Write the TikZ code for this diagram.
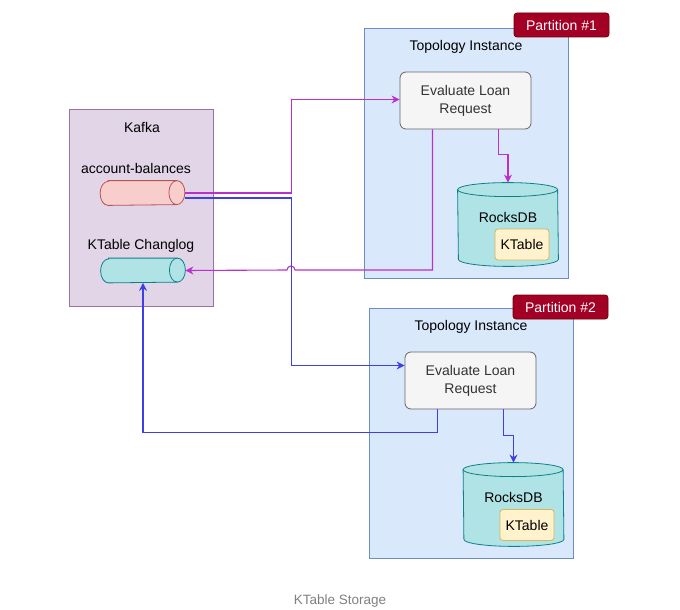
\documentclass[tikz,border=0pt]{standalone}
\usepackage{fontspec}
\setmainfont{Liberation Sans}
\usetikzlibrary{arrows.meta}

\definecolor{kafkafill}{HTML}{E1D5E7}
\definecolor{kafkadraw}{HTML}{9673A6}
\definecolor{redfill}{HTML}{F8CECC}
\definecolor{reddraw}{HTML}{B85450}
\definecolor{tealfill}{HTML}{B0E3E6}
\definecolor{tealdraw}{HTML}{0E8088}
\definecolor{topofill}{HTML}{DAE8FC}
\definecolor{topodraw}{HTML}{6C8EBF}
\definecolor{procfill}{HTML}{F5F5F5}
\definecolor{procdraw}{HTML}{666666}
\definecolor{proctext}{HTML}{333333}
\definecolor{tablefill}{HTML}{FFF2CC}
\definecolor{tabledraw}{HTML}{D6B656}
\definecolor{tagfill}{HTML}{A20025}
\definecolor{tagdraw}{HTML}{6F0000}
\definecolor{magline}{HTML}{BB2FCC}
\definecolor{blueline}{HTML}{3F3FE6}

\begin{document}
\begin{tikzpicture}[x=1pt,y=-1pt,>={Stealth[length=8pt,width=8pt]},line width=0.8pt,
  font=\fontsize{14}{16.5}\selectfont,
  box node/.style={draw,anchor=north west,inner sep=0pt},
  topic node/.style={rectangle,minimum width=84pt,minimum height=24pt,inner sep=0pt},
  db node/.style={rectangle,minimum width=100pt,minimum height=83pt,inner sep=0pt},
  proc node/.style={rectangle,rounded corners=6pt,draw=procdraw,fill=procfill,text=proctext,
    align=center,minimum width=131pt,minimum height=57pt,font=\fontsize{14}{18}\selectfont},
  table node/.style={rectangle,rounded corners=3pt,draw=tabledraw,fill=tablefill,
    minimum width=54pt,minimum height=31pt,inner sep=0pt},
  tag node/.style={rectangle,rounded corners=3pt,draw=tagdraw,fill=tagfill,text=white,
    minimum width=95pt,minimum height=24pt,inner sep=0pt},
  flow/.style={->,line width=1.1pt}]

  \useasboundingbox (0,0) rectangle (680,610);

  % kafka
  \node[box node,fill=kafkafill,draw=kafkadraw,minimum width=144pt,minimum height=197pt] (kafka) at (69,109) {};
  \node (kafkatitle) at (142,127) {Kafka};
  \node (balancestitle) at (136,168) {account-balances};
  \node[topic node] (balances) at (142.5,193) {};
  \node (changlogtitle) at (141,246) {KTable Changlog};
  \node[topic node] (changlog) at (143,270.5) {};

  % topic cylinders, lying
  \foreach \n/\f/\d in {balances/redfill/reddraw,changlog/tealfill/tealdraw} {
    \draw[fill=\f,draw=\d] ([xshift=8pt]\n.north west) -- ([xshift=-8pt]\n.north east)
      arc[start angle=90,end angle=-90,x radius=8pt,y radius=12pt]
      -- ([xshift=8pt]\n.south west)
      arc[start angle=270,end angle=90,x radius=8pt,y radius=12pt] -- cycle;
    \draw[draw=\d] ([xshift=-8pt]\n.north east)
      arc[start angle=90,end angle=270,x radius=8pt,y radius=12pt];
  }

  % partition 1
  \node[box node,fill=topofill,draw=topodraw,minimum width=204pt,minimum height=250pt] (topo1) at (364,28) {};
  \node (topotitle1) at (466,47) {Topology Instance};
  \node[tag node] (part1) at (561.5,25) {Partition \#1};
  \node[proc node] (eval1) at (465.5,100.5) {Evaluate Loan\\Request};
  \node[db node] (rocks1) at (508,224.5) {};

  % partition 2
  \node[box node,fill=topofill,draw=topodraw,minimum width=204pt,minimum height=250pt] (topo2) at (369,308) {};
  \node (topotitle2) at (471,327) {Topology Instance};
  \node[tag node] (part2) at (560.5,307) {Partition \#2};
  \node[proc node] (eval2) at (470.5,380.5) {Evaluate Loan\\Request};
  \node[db node] (rocks2) at (513.5,504.5) {};

  % rocksdb cylinders, standing
  \foreach \n in {rocks1,rocks2} {
    \draw[fill=tealfill,draw=tealdraw] ([yshift=-7pt]\n.north west)
      arc[start angle=180,end angle=0,x radius=50pt,y radius=7pt]
      -- ([yshift=7pt]\n.south east)
      arc[start angle=0,end angle=-180,x radius=50pt,y radius=7pt] -- cycle;
    \draw[draw=tealdraw] ([yshift=-7pt]\n.north west)
      arc[start angle=180,end angle=360,x radius=50pt,y radius=7pt];
    \node (\n title) at ([yshift=7.5pt]\n.center) {RocksDB};
  }
  \node[table node] (table1) at (522,244.5) {KTable};
  \node[table node] (table2) at (527,525) {KTable};

  % connectors
  \draw[flow,magline] (balances.east) -- ++(107,0) |- ([yshift=1pt]eval1.west);
  \draw[flow,magline] ([xshift=33pt]eval1.south) -- ++(0,25) -| (rocks1.north);
  \draw[flow,magline] ([xshift=-33pt]eval1.south) |- (295,270)
    arc[start angle=0,end angle=180,radius=4pt] -- (changlog.east);
  \draw[flow,blueline] ([yshift=-5pt]balances.east) -- ++(107,0) |- ([yshift=15pt]eval2.west);
  \draw[flow,blueline] ([xshift=33pt]eval2.south) -- ++(0,26) -| (rocks2.north);
  \draw[flow,blueline] ([xshift=-33pt]eval2.south) -- ++(0,23) -| (changlog.south);

  \node[text=gray,font=\fontsize{13.5}{16}\selectfont] (caption) at (340,601) {KTable Storage};
\end{tikzpicture}
\end{document}
